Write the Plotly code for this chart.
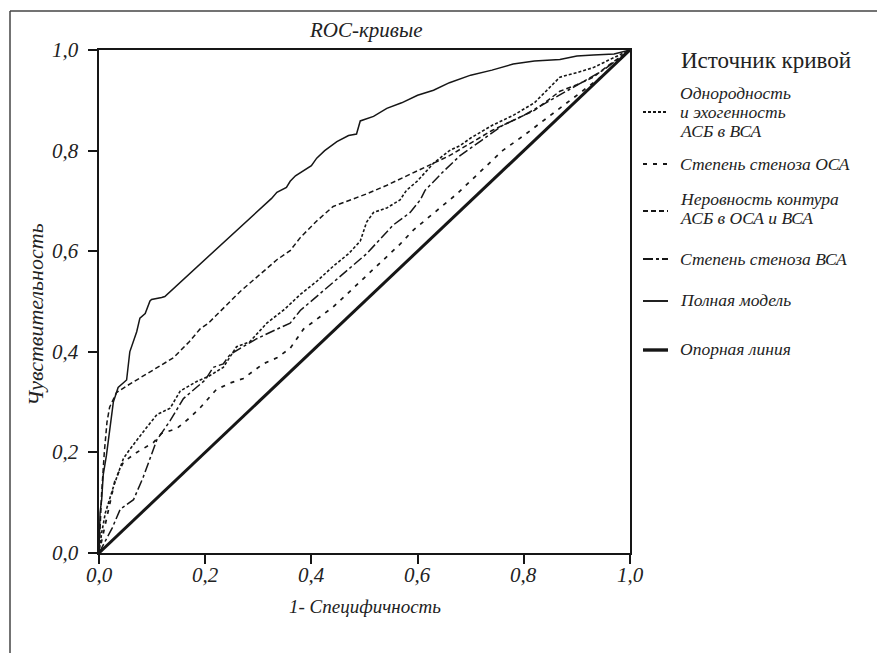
import plotly.graph_objects as go

# ---------------- data ----------------
tick_vals = [0.0, 0.2, 0.4, 0.6, 0.8, 1.0]
tick_text = ["0,0", "0,2", "0,4", "0,6", "0,8", "1,0"]

names = [
    "Однородность<br>и эхогенность<br>АСБ в ВСА",
    "Степень стеноза ОСА",
    "Неровность контура<br>АСБ в ОСА и ВСА",
    "Степень стеноза ВСА",
    "Полная модель",
    "Опорная линия",
]

homog_x = [0, 0.005, 0.012, 0.02, 0.027, 0.046, 0.058, 0.09, 0.109, 0.134, 0.153, 0.184, 0.206,
           0.234, 0.259, 0.284, 0.316, 0.35, 0.379, 0.41, 0.441, 0.47, 0.492, 0.504, 0.517,
           0.542, 0.567, 0.579, 0.6, 0.63, 0.66, 0.68, 0.70, 0.74, 0.78, 0.82, 0.868, 0.90,
           0.931, 0.96, 1.0]
homog_y = [0, 0.04, 0.08, 0.11, 0.131, 0.188, 0.206, 0.25, 0.275, 0.288, 0.322, 0.341, 0.351,
           0.369, 0.41, 0.42, 0.457, 0.485, 0.514, 0.54, 0.57, 0.595, 0.62, 0.658, 0.677,
           0.686, 0.702, 0.721, 0.74, 0.775, 0.80, 0.81, 0.825, 0.85, 0.87, 0.895, 0.946, 0.955,
           0.965, 0.98, 1.0]

osa_x = [0, 0.01, 0.02, 0.030, 0.046, 0.071, 0.102, 0.118, 0.146, 0.171, 0.19, 0.221, 0.247,
         0.272, 0.309, 0.335, 0.36, 0.385, 0.441, 0.504, 0.567, 0.592, 0.617, 0.674, 0.72,
         0.76, 0.80, 0.85, 0.90, 0.95, 1.0]
osa_y = [0, 0.05, 0.10, 0.144, 0.181, 0.20, 0.219, 0.238, 0.247, 0.269, 0.288, 0.325, 0.338,
         0.347, 0.376, 0.388, 0.407, 0.445, 0.489, 0.551, 0.614, 0.642, 0.664, 0.714, 0.76,
         0.80, 0.83, 0.87, 0.91, 0.95, 1.0]

contour_x = [0, 0.002, 0.005, 0.01, 0.015, 0.02, 0.033, 0.052, 0.08, 0.102, 0.14, 0.17, 0.19,
             0.206, 0.266, 0.335, 0.36, 0.379, 0.41, 0.441, 0.47, 0.504, 0.54, 0.58, 0.62,
             0.66, 0.70, 0.74, 0.78, 0.82, 0.868, 0.90, 0.931, 0.96, 1.0]
contour_y = [0, 0.05, 0.12, 0.20, 0.26, 0.29, 0.319, 0.332, 0.35, 0.363, 0.388, 0.42, 0.445,
             0.457, 0.52, 0.583, 0.601, 0.627, 0.66, 0.689, 0.70, 0.714, 0.73, 0.75, 0.77,
             0.79, 0.815, 0.84, 0.86, 0.88, 0.918, 0.931, 0.946, 0.97, 1.0]

ica_x = [0, 0.01, 0.025, 0.04, 0.065, 0.083, 0.096, 0.109, 0.134, 0.159, 0.20, 0.215, 0.234,
         0.247, 0.266, 0.297, 0.335, 0.36, 0.379, 0.441, 0.504, 0.554, 0.586, 0.605, 0.614,
         0.65, 0.68, 0.72, 0.76, 0.80, 0.85, 0.90, 0.95, 1.0]
ica_y = [0, 0.02, 0.05, 0.087, 0.106, 0.15, 0.188, 0.225, 0.263, 0.307, 0.344, 0.369, 0.376,
         0.395, 0.407, 0.426, 0.445, 0.457, 0.482, 0.539, 0.595, 0.652, 0.677, 0.702, 0.721,
         0.76, 0.79, 0.82, 0.85, 0.87, 0.90, 0.93, 0.96, 1.0]

full_x = [0, 0.001, 0.002, 0.005, 0.008, 0.014, 0.021, 0.027, 0.036, 0.052, 0.058, 0.065,
          0.071, 0.077, 0.087, 0.096, 0.099, 0.118, 0.124, 0.325, 0.335, 0.353, 0.36, 0.37,
          0.385, 0.40, 0.41, 0.425, 0.448, 0.47, 0.485, 0.492, 0.517, 0.542, 0.57, 0.60,
          0.63, 0.66, 0.70, 0.74, 0.78, 0.82, 0.868, 0.90, 0.931, 0.97, 1.0]
full_y = [0, 0.04, 0.08, 0.106, 0.156, 0.194, 0.25, 0.30, 0.329, 0.344, 0.40, 0.42,
          0.44, 0.467, 0.476, 0.501, 0.504, 0.508, 0.51, 0.705, 0.717, 0.727, 0.739, 0.75,
          0.76, 0.77, 0.785, 0.80, 0.818, 0.83, 0.833, 0.859, 0.868, 0.884, 0.895, 0.91,
          0.92, 0.935, 0.95, 0.96, 0.972, 0.978, 0.981, 0.988, 0.99, 0.992, 1.0]

ref_x = [0, 1]
ref_y = [0, 1]

series = [
    (homog_x, homog_y, "3px,2px", 1.6),
    (osa_x, osa_y, "4px,6px", 1.7),
    (contour_x, contour_y, "5px,3px", 1.5),
    (ica_x, ica_y, "10px,3px,3px,3px", 1.5),
    (full_x, full_y, "solid", 1.5),
    (ref_x, ref_y, "solid", 3.0),
]

INK = "#161616"
TXT = "#222"
SERIF = "Liberation Serif"

fig = go.Figure()
for (xs, ys, dash, w), nm in zip(series, names):
    fig.add_trace(go.Scatter(x=xs, y=ys, mode="lines", name=nm.replace("<br>", " "),
                             line=dict(color=INK, width=w, dash=dash), showlegend=False))

# page geometry (the page body has an 8px margin)
PAGE_W, PAGE_H, OFF = 885, 653, 8
L, R, T, B = 99, 630, 50, 553   # plot area in page pixels


def px(xp):
    return (xp - L) / (R - L)


def py(yp):
    return (B - yp) / (B - T)


W, H = PAGE_W - OFF, PAGE_H - OFF

axis_common = dict(range=[0, 1], tickvals=tick_vals, ticks="outside", showticklabels=False,
                   ticklen=9, tickwidth=2, tickcolor=INK, showline=True, linewidth=2,
                   linecolor=INK, mirror=True, showgrid=False, zeroline=False,
                   fixedrange=True)

fig.update_layout(
    width=W, height=H,
    margin=dict(l=L - OFF, r=W - (R - OFF), t=T - OFF, b=H - (B - OFF), pad=0),
    paper_bgcolor="white", plot_bgcolor="white",
    xaxis=axis_common,
    yaxis=axis_common,
    showlegend=False,
)

shapes = []
annotations = []
# outer frame (left and top)
shapes.append(dict(type="line", xref="paper", yref="paper", x0=px(10), x1=px(10),
                   y0=py(11), y1=py(PAGE_H + 5), line=dict(color="#444", width=1.5)))
shapes.append(dict(type="line", xref="paper", yref="paper", x0=px(10), x1=px(PAGE_W + 5),
                   y0=py(11), y1=py(11), line=dict(color="#444", width=1.5)))

tickfont = dict(family=SERIF, size=21, color=TXT, style="italic")
for v, t in zip(tick_vals, tick_text):
    annotations.append(dict(text=t, xref="paper", yref="y", x=px(81), y=v, showarrow=False,
                            font=tickfont, xanchor="right", yanchor="middle"))
    annotations.append(dict(text=t, xref="x", yref="paper", x=v, y=py(575), showarrow=False,
                            font=tickfont, xanchor="center", yanchor="middle"))

it = dict(family=SERIF, size=21, color=TXT, style="italic")
annotations.append(dict(text="ROC-кривые", xref="paper", yref="paper", x=px(365), y=py(30),
                        showarrow=False, font=it, xanchor="center", yanchor="middle"))
annotations.append(dict(text="1- Специфичность", xref="paper", yref="paper", x=px(365), y=py(606),
                        showarrow=False, font=dict(it, size=19), xanchor="center",
                        yanchor="middle"))
annotations.append(dict(text="Чувствительность", xref="paper", yref="paper", x=px(35), y=py(315),
                        showarrow=False, font=dict(it, size=22), textangle=-90,
                        xanchor="center", yanchor="middle"))
annotations.append(dict(text="Источник кривой", xref="paper", yref="paper", x=px(679), y=py(60),
                        showarrow=False, font=dict(family=SERIF, size=23, color=TXT),
                        xanchor="left", yanchor="middle"))

# manual legend: text lines and line samples
legend_lines = [
    [93, 112, 131],
    [164],
    [199, 218],
    [259],
    [300],
    [349],
]
sample_y = [112, 164, 211, 259, 301, 350]
lf = dict(family=SERIF, size=17.5, color=TXT, style="italic")
for (xs, ys, dash, w), nm, rows, sy in zip(series, names, legend_lines, sample_y):
    for txt, ry in zip(nm.split("<br>"), rows):
        annotations.append(dict(text=txt, xref="paper", yref="paper", x=px(679), y=py(ry),
                                showarrow=False, font=lf, xanchor="left", yanchor="middle",
                                borderpad=0))
    shapes.append(dict(type="line", xref="paper", yref="paper", x0=px(643), x1=px(668),
                       y0=py(sy), y1=py(sy), line=dict(color=INK, width=w + 0.4, dash=dash)))

fig.update_layout(shapes=shapes, annotations=annotations)
fig.write_html("out.html")
